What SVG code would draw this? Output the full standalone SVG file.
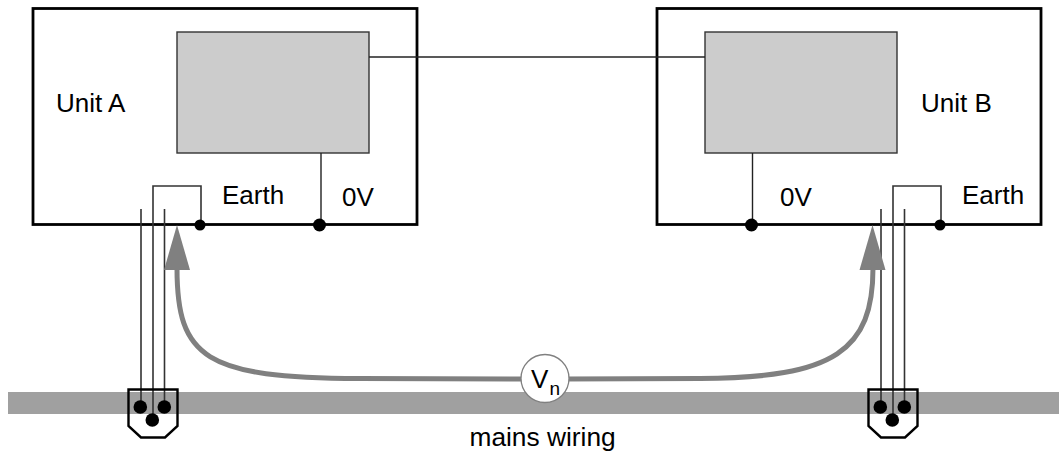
<svg xmlns="http://www.w3.org/2000/svg" width="1059" height="453" viewBox="0 0 1059 453">
<style>
text{font-family:"Liberation Sans",Arial,sans-serif;font-size:26px;fill:#000}
.box{fill:#fff;stroke:#000;stroke-width:2.8}
.inner{fill:#ccc;stroke:#333;stroke-width:1.4}
.w{fill:none;stroke:#222;stroke-width:1.4}
.wire{fill:none;stroke:#333;stroke-width:1.6}
.sock{fill:none;stroke:#000;stroke-width:2.4}
.noise{fill:none;stroke:#808080;stroke-width:5}
.head{fill:#808080}
</style>
<g id="mains"><rect x="8" y="392" width="1051" height="22" fill="#a0a0a0"/></g>
<g id="unit-a">
<rect class="box" x="33" y="8.500" width="384" height="216"/>
<rect class="inner" x="177" y="32" width="192" height="121"/>
<text x="56" y="111.500">Unit A</text>
<text x="222" y="203.500">Earth</text>
<text x="342" y="205.500">0V</text>
</g>
<g id="unit-b">
<rect class="box" x="657" y="8.500" width="384" height="216"/>
<rect class="inner" x="705" y="32" width="192" height="121"/>
<text x="921" y="111.500">Unit B</text>
<text x="962" y="203.500">Earth</text>
<text x="780" y="205.500">0V</text>
</g>
<g id="connectors">
<path class="w" d="M369 57H705"/>
<path class="w" d="M321 153V225"/>
<path class="w" d="M752.500 153V225"/>
<path class="wire" d="M141 209V407M164.500 209V407M153 420V186H201V225"/>
<path class="wire" d="M881 209V407M904.500 209V407M893 420V186H941V225"/>
<circle cx="200" cy="225" r="5.500"/><circle cx="319.500" cy="225" r="6.500"/>
<circle cx="751.500" cy="225" r="6.500"/><circle cx="940" cy="225" r="5.500"/>
<path class="noise" d="M177 268C177 358 205 378 360 378.500L525 379"/>
<path class="noise" d="M565 379L700 378.500C835 378 873 350 873 268"/>
<path class="head" d="M177 225L190 270H164Z"/>
<path class="head" d="M872.500 225L885.500 270H859.500Z"/>
</g>
<g id="socket-a">
<path class="sock" d="M128.500 389.500H177.500V426L165 437.500H141L128.500 426Z"/>
<circle cx="140.300" cy="407" r="6.800"/><circle cx="164.300" cy="407" r="6.800"/><circle cx="152.300" cy="420" r="6.800"/>
</g>
<g id="socket-b">
<path class="sock" d="M868.500 389.500H917.500V426L905 437.500H881L868.500 426Z"/>
<circle cx="880.300" cy="407" r="6.800"/><circle cx="904.300" cy="407" r="6.800"/><circle cx="892.300" cy="420" r="6.800"/>
</g>
<g id="vn">
<circle cx="545" cy="378.500" r="24" fill="#fff" stroke="#808080" stroke-width="1.300"/>
<text x="531" y="388">V</text><text x="549.500" y="395" style="font-size:19px">n</text>
</g>
<text x="469.500" y="446" style="font-size:26.300px">mains wiring</text>
</svg>
